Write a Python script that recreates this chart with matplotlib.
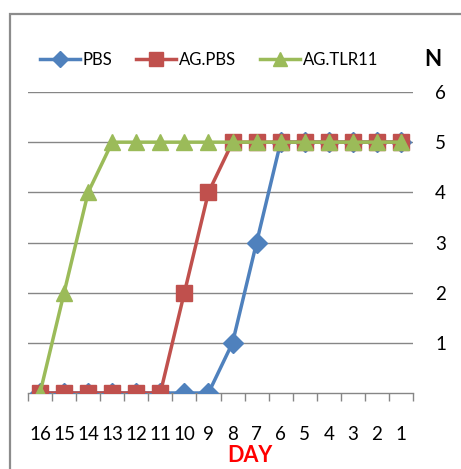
import numpy as np
import matplotlib.pyplot as plt
from matplotlib.patches import Rectangle

plt.rcParams['font.family'] = ['Lato', 'DejaVu Sans']

# Data
days = ['16', '15', '14', '13', '12', '11', '10', '9', '8', '7', '6', '5', '4', '3', '2', '1']
pbs = [0, 0, 0, 0, 0, 0, 0, 0, 1, 3, 5, 5, 5, 5, 5, 5]
ag_pbs = [0, 0, 0, 0, 0, 0, 2, 4, 5, 5, 5, 5, 5, 5, 5, 5]
ag_tlr11 = [0, 2, 4, 5, 5, 5, 5, 5, 5, 5, 5, 5, 5, 5, 5, 5]
y_ticks = [1, 2, 3, 4, 5, 6]

W, H = 461, 469
fig = plt.figure(figsize=(W / 100, H / 100), dpi=100)
ax = fig.add_axes([28 / W, 1 - 393 / H, (413 - 28) / W, (393 - 92) / H])

x = np.arange(len(days))
ax.plot(x, pbs, color='#4F81BD', lw=2.5, marker='D', ms=10, label='PBS', zorder=3)
ax.plot(x, ag_pbs, color='#C0504D', lw=2.5, marker='s', ms=12, label='AG.PBS', zorder=4)
ax.plot(x, ag_tlr11, color='#9BBB59', lw=2.5, marker='^', ms=12, label='AG.TLR11', zorder=5)

ax.set_xlim(-0.5, len(days) - 0.5)
ax.set_ylim(0, 6)

# category labels at centres, tick marks on the boundaries
ax.set_xticks(x)
ax.set_xticklabels(days, fontsize=13.5)
ax.set_xticks(np.arange(-0.5, len(days)), minor=True)
ax.tick_params(axis='x', which='major', length=0, pad=24)
ax.tick_params(axis='x', which='minor', length=6, color='#868686', width=1)

ax.yaxis.tick_right()
ax.set_yticks(y_ticks)
ax.set_yticklabels([str(v) for v in y_ticks], fontsize=13.5)
ax.tick_params(axis='y', length=0, pad=16)
ax.grid(axis='y', color='#868686', lw=1)
ax.set_axisbelow(True)

for s in ['left', 'top', 'right']:
    ax.spines[s].set_visible(False)
ax.spines['bottom'].set_color('#868686')
ax.spines['bottom'].set_linewidth(1)

leg = fig.legend(loc='center left', bbox_to_anchor=(33 / W, 1 - 60 / H), ncol=3,
                 frameon=False, fontsize=12, handlelength=2.4, handletextpad=0.2,
                 columnspacing=1.4, borderaxespad=0, markerscale=0.8)

fig.text(433 / W, 1 - 60 / H, 'N', fontsize=16, fontweight='bold', ha='center', va='center')
fig.text(250 / W, 1 - 455 / H, 'DAY', fontsize=15.5, fontweight='bold', color='#FF0000',
         ha='center', va='center')

fig.patches.append(Rectangle((10 / W, -0.1), 1.2, 1.1 - 14 / H, transform=fig.transFigure,
                             fill=False, edgecolor='#8C8C8C', lw=1.6))

fig.savefig('out.png', dpi=100)
